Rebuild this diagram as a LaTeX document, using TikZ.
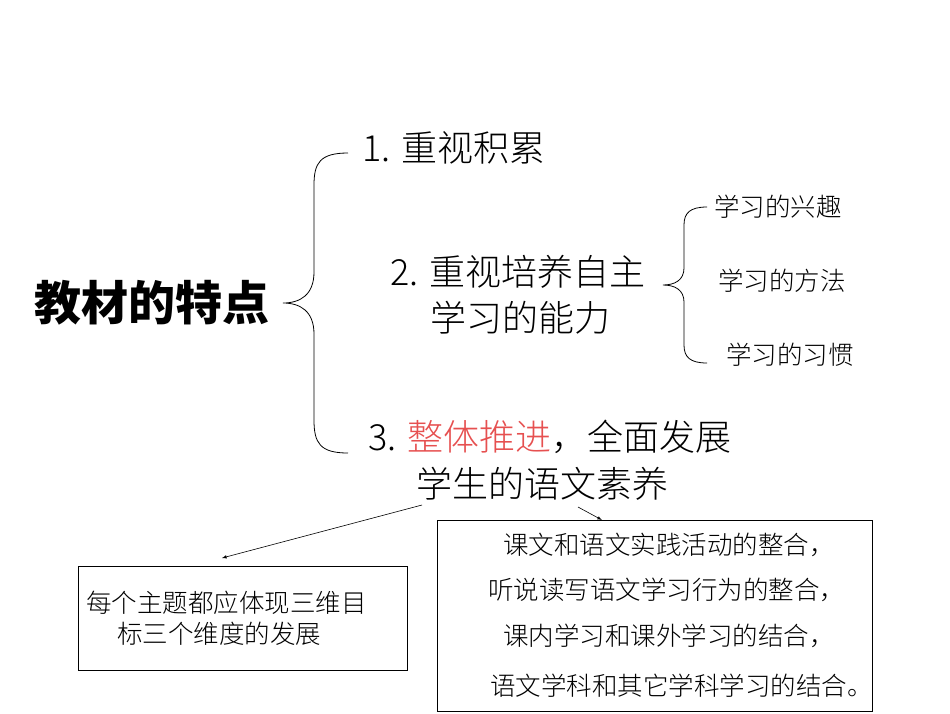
\documentclass[tikz,border=0pt]{standalone}
\usepackage{fontspec}
\setmainfont{Liberation Sans}
\newfontfamily\cjk{Noto Sans CJK SC}
\newfontfamily\cjkl{Noto Sans CJK SC Light}
\begin{document}
\begin{tikzpicture}[x=1pt,y=-1pt,
  big/.style={font=\fontsize{36}{40}\selectfont\cjkl, anchor=west, inner sep=0},
  small/.style={font=\fontsize{25.5}{28}\selectfont\cjkl, anchor=west, inner sep=0},
  brace/.style={draw=black, line width=0.8pt},
  box/.style={draw=black, line width=0.8pt}]
\useasboundingbox (0,0) rectangle (950,713);
\node[font=\fontsize{47}{50}\selectfont\cjk\bfseries, inner sep=0] (title) at (152,303) {教材的特点};
% big brace
\draw[brace] (348,153) .. controls (320,153) and (314,163) .. (314,185) -- (314,272)
  .. controls (314,295) and (300,303) .. (283,303)
  .. controls (300,303) and (314,311) .. (314,334) -- (314,420)
  .. controls (314,443) and (320,453) .. (348,453);
\node[big] (a) at (362,148) {1. 重视积累};
\node[big] (b1) at (390,272) {2. 重视培养自主};
\node[big] (b2) at (430,318) {学习的能力};
\node[big] (c1) at (368,437) {3. \textcolor[RGB]{230,80,80}{整体推进}，全面发展};
\node[big] (c2) at (416,484) {学生的语文素养};
% small brace
\draw[brace] (707,207) .. controls (690,207) and (684,213) .. (684,225) -- (684,268)
  .. controls (684,280) and (675,285) .. (663,285)
  .. controls (675,285) and (684,290) .. (684,302) -- (684,345)
  .. controls (684,357) and (690,363) .. (707,363);
\node[small] (s1) at (714,207) {学习的兴趣};
\node[small] (s2) at (718,281) {学习的方法};
\node[small] (s3) at (726,355) {学习的习惯};
% boxes
\draw[box] (78,566) rectangle (407,670);
\coordinate (lb) at (222,558);
\node[small] (l1) at (86,603) {每个主题都应体现三维目};
\node[small] (l2) at (117,634) {标三个维度的发展};
\draw[box] (437,520) rectangle (872,711);
\coordinate (rb) at (602,520);
\node[small] (r1) at (503,545) {课文和语文实践活动的整合，};
\node[small] (r2) at (488,590) {听说读写语文学习行为的整合，};
\node[small] (r3) at (503,636) {课内学习和课外学习的结合，};
\node[small] (r4) at (490,686) {语文学科和其它学科学习的结合。};
\coordinate (o1) at (422,505);
\coordinate (o2) at (578,507);
\draw[-latex, line width=0.6pt] (o1) -- (lb);
\draw[-latex, line width=0.6pt] (o2) -- (rb);
\end{tikzpicture}
\end{document}
